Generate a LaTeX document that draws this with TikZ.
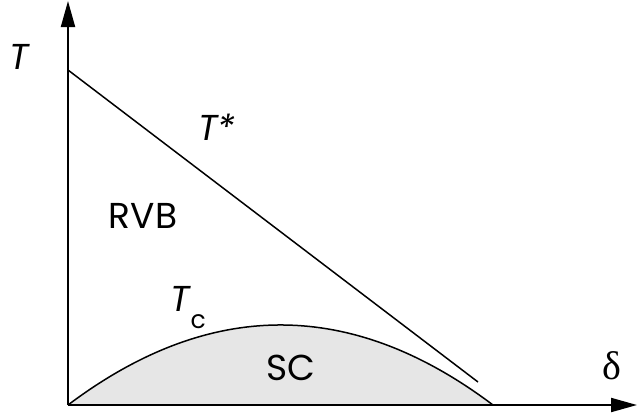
\documentclass[tikz,border=0pt]{standalone}
\usepackage{fontspec}
\setmainfont{Poppins}
\newfontfamily\greekfont{Liberation Serif}
\usetikzlibrary{arrows.meta}
\definecolor{domefill}{HTML}{E6E6E6}
\tikzset{
  axis/.style={line width=2pt,-{Triangle[length=26pt,width=14pt]}},
  curve/.style={line width=1.5pt},
  lbl/.style={inner sep=0pt,font=\fontsize{36}{40}\selectfont}
}
\begin{document}
\begin{tikzpicture}[x=1pt,y=-1pt]
\useasboundingbox (0,0) rectangle (637,416);
\coordinate (O) at (68,405);
\coordinate (Ytop) at (68,1);
\coordinate (Xend) at (637,405);
\coordinate (Dend) at (493,405);
\coordinate (Lstart) at (68,70);
\coordinate (Lend) at (478,382);
\fill[domefill] (O) .. controls (209.7,298.3) and (351.3,298.3) .. (Dend) -- cycle;
\draw[curve] (O) .. controls (209.7,298.3) and (351.3,298.3) .. (Dend);
\draw[curve] (Lstart) -- (Lend);
\draw[axis] (O) -- (Ytop);
\draw[axis] (O) -- (Xend);
\node[lbl] (tlab) at (19,57) {\itshape T};
\node[lbl] (tstar) at (217,127) {\itshape T*};
\node[lbl] (rvb) at (143,216) {RVB};
\node[lbl,anchor=base west] (tc) at (170,311) {\itshape T\hspace{1pt}\raisebox{-17pt}{\fontsize{25}{25}\selectfont\upshape c}};
\node[lbl] (sc) at (291,368) {SC};
\node[lbl,font=\greekfont\fontsize{40}{44}\selectfont] (delta) at (612,366) {δ};
\end{tikzpicture}
\end{document}
